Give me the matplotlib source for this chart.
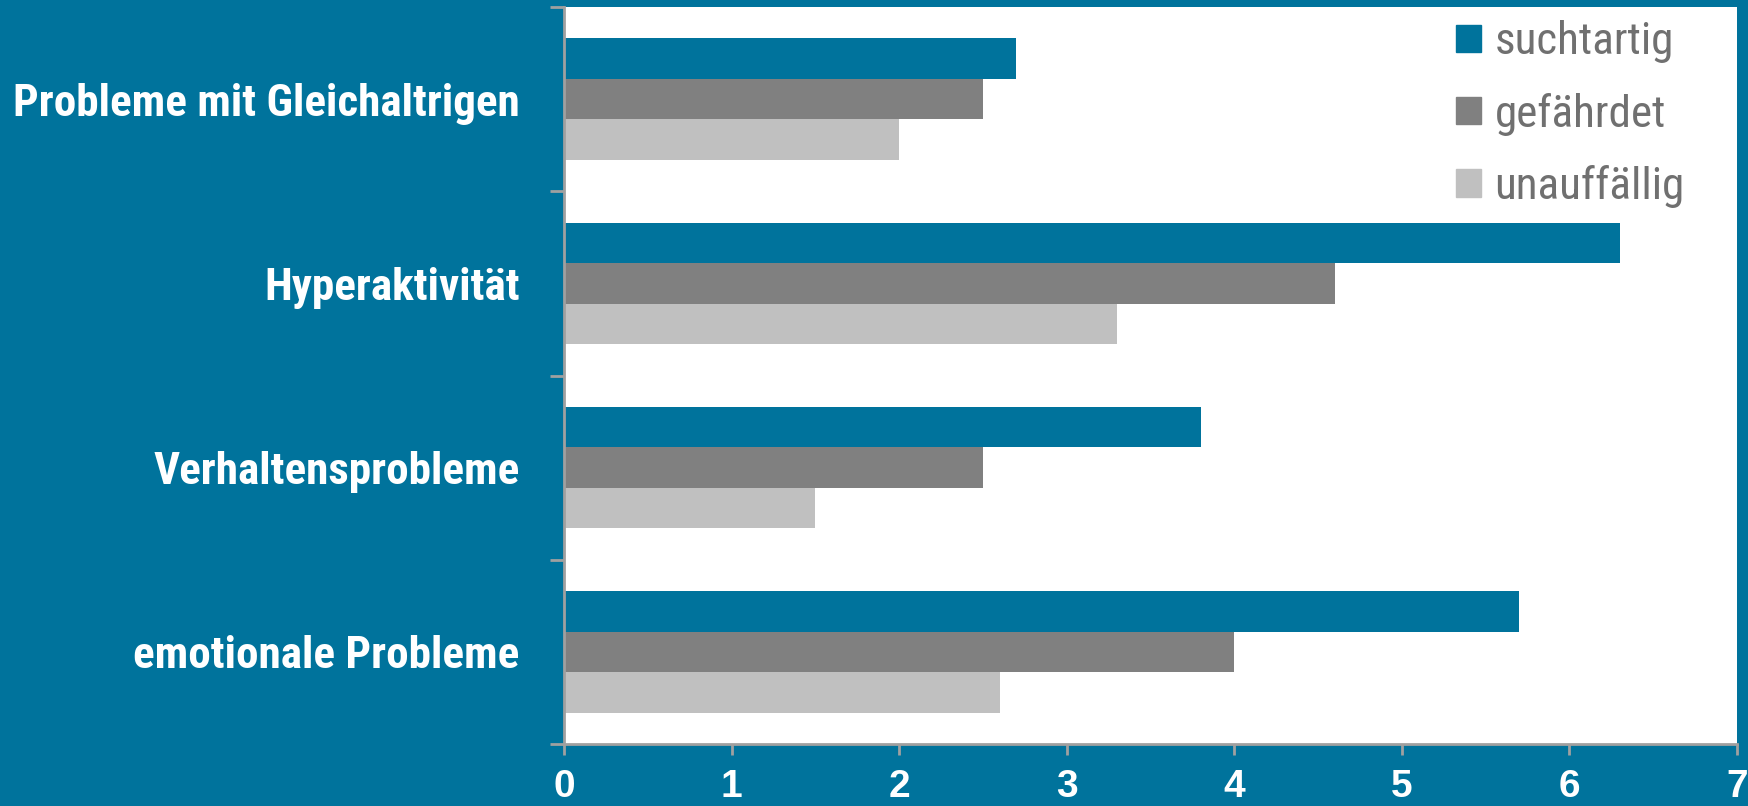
import numpy as np
import matplotlib.pyplot as plt
from matplotlib.patches import Patch

# Daten
kategorien = ['emotionale Probleme', 'Verhaltensprobleme', 'Hyperaktivität', 'Probleme mit Gleichaltrigen']
suchtartig = [5.7, 3.8, 6.3, 2.7]
gefaehrdet = [4.0, 2.5, 4.6, 2.5]
unauffaellig = [2.6, 1.5, 3.3, 2.0]
serien = ['suchtartig', 'gefährdet', 'unauffällig']
x_ticks = [0, 1, 2, 3, 4, 5, 6, 7]

teal = '#00739C'
farben = [teal, '#808080', '#C0C0C0']
achse = '#A0A0A0'
schrift = ['Roboto Condensed', 'Roboto', 'DejaVu Sans']

W, H = 1749, 806
fig = plt.figure(figsize=(W / 100, H / 100), dpi=100, facecolor=teal)
ax = fig.add_axes([564 / W, 1 - 744 / H, (1737 - 564) / W, (744 - 7) / H])
ax.set_facecolor('white')

y = np.arange(len(kategorien))
h = 0.22
for i, (werte, name) in enumerate(zip([suchtartig, gefaehrdet, unauffaellig], serien)):
    ax.barh(y + h - i * h, werte, height=h, color=farben[i], label=name)

ax.set_xlim(0, 7)
ax.set_ylim(-0.5, len(kategorien) - 0.5)

# Achsen
for s in ['top', 'right']:
    ax.spines[s].set_visible(False)
for s in ['left', 'bottom']:
    ax.spines[s].set_color(achse)
    ax.spines[s].set_linewidth(2)

ax.set_xticks(x_ticks)
ax.set_xticklabels([str(v) for v in x_ticks], color='white', fontsize=28,
                   fontweight='bold', family=['Liberation Sans', 'DejaVu Sans'])
ax.tick_params(axis='x', length=8, width=2, color=achse, pad=10)

ax.set_yticks(np.arange(-0.5, len(kategorien), 1.0))
ax.set_yticklabels([])
ax.tick_params(axis='y', which='major', length=10, width=2, color=achse)
ax.set_yticks(y, minor=True)
ax.set_yticklabels(kategorien, minor=True, color='white', fontsize=32.5,
                   fontweight='bold', family=schrift)
ax.tick_params(axis='y', which='minor', length=0, pad=32)

# Legende
handles = [Patch(color=c) for c in farben]
leg = ax.legend(handles, serien, loc='upper right', bbox_to_anchor=(0.99, 1.037),
                frameon=False, labelcolor='#707070',
                handlelength=0.55, handleheight=0.55, handletextpad=0.3,
                labelspacing=0.65, prop={'family': schrift, 'size': 32.5})

fig.savefig('out.png', dpi=100, facecolor=teal)
